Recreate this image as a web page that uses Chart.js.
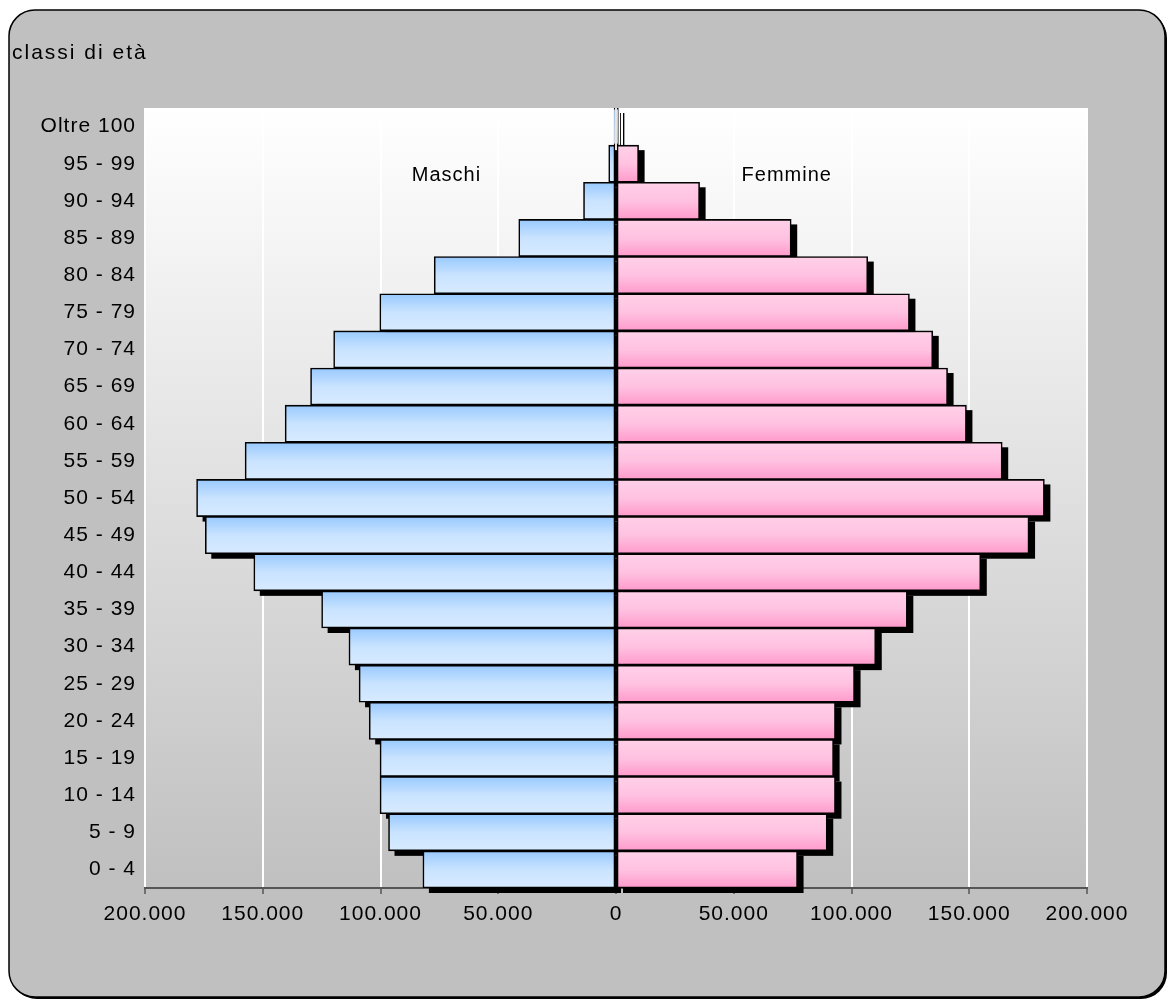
<!DOCTYPE html>
<html>
<head>
<meta charset="utf-8">
<script src="https://cdn.jsdelivr.net/npm/chart.js@4.4.1/dist/chart.umd.min.js"></script>
<style>
  html, body { margin: 0; padding: 0; background: #fff; }
  #contenitore { width: 1170px; height: 1003px; }
</style>
</head>
<body>
<div id="contenitore"><canvas id="piramide"></canvas></div>
<script>
const classiEta = ['Oltre 100', '95 - 99', '90 - 94', '85 - 89', '80 - 84', '75 - 79', '70 - 74',
    '65 - 69', '60 - 64', '55 - 59', '50 - 54', '45 - 49', '40 - 44', '35 - 39', '30 - 34',
    '25 - 29', '20 - 24', '15 - 19', '10 - 14', '5 - 9', '0 - 4'];

const maschi = [800, 3100, 13800, 41300, 77200, 100300, 119900, 129700, 140500, 157500, 178100,
    174400, 153800, 125000, 113400, 109100, 104800, 100200, 100200, 96600, 82000];

const femmine = [1000, 9600, 35500, 74400, 106900, 124600, 134500, 140800, 148800, 164000, 181900,
    175400, 154900, 123700, 110300, 101300, 93200, 92400, 93200, 89700, 77100];

const tacche = [-200000, -150000, -100000, -50000, 0, 50000, 100000, 150000, 200000];

const carattere = '"Liberation Sans", Arial, sans-serif';

function formatoItaliano(n) {
    return String(Math.abs(n)).replace(/\B(?=(\d{3})+(?!\d))/g, '.');
}

function gradienteBarra(ctx, colori) {
    const chart = ctx.chart;
    const asseY = chart.scales.y;
    if (!asseY || ctx.dataIndex === undefined) {
        return colori[1];
    }
    const centro = asseY.getPixelForValue(ctx.dataIndex);
    const alto = asseY.height / classiEta.length;
    if (!isFinite(centro) || !isFinite(alto) || alto <= 0) {
        return colori[1];
    }
    const g = chart.ctx.createLinearGradient(0, centro - alto / 2, 0, centro + alto / 2);
    g.addColorStop(0, colori[0]);
    g.addColorStop(0.5, colori[1]);
    g.addColorStop(1, colori[2]);
    return g;
}

const sfondo = {
    id: 'sfondo',
    beforeDraw(chart) {
        const c = chart.ctx;
        const area = chart.chartArea;
        c.save();
        c.fillStyle = '#ffffff';
        c.fillRect(0, 0, chart.width, chart.height);
        // ombra del riquadro
        c.beginPath();
        c.roundRect(11, 12, 1156, 987, 26);
        c.fillStyle = '#000';
        c.fill();
        c.beginPath();
        c.roundRect(9, 10, 1156, 987, 26);
        c.fillStyle = '#c0c0c0';
        c.fill();
        c.lineWidth = 1.5;
        c.strokeStyle = '#000';
        c.stroke();
        const g = c.createLinearGradient(0, area.top, 0, area.bottom);
        g.addColorStop(0, '#ffffff');
        g.addColorStop(1, '#c0c0c0');
        c.fillStyle = g;
        c.fillRect(area.left, area.top, area.right - area.left, area.bottom - area.top);
        c.fillStyle = '#000';
        c.font = '21px ' + carattere;
        c.letterSpacing = '2px';
        c.textBaseline = 'middle';
        c.textAlign = 'left';
        c.fillText('classi di età', 12, 53);
        c.restore();
        // scritte un po' allargate come nell'originale
        c.letterSpacing = '1px';
    }
};

const ombre = {
    id: 'ombre',
    beforeDatasetsDraw(chart) {
        const c = chart.ctx;
        c.save();
        c.fillStyle = '#000';
        chart.data.datasets.forEach((ds, i) => {
            chart.getDatasetMeta(i).data.forEach((barra) => {
                const p = barra.getProps(['x', 'y', 'base', 'height'], true);
                const sx = Math.min(p.x, p.base);
                const dx = Math.max(p.x, p.base);
                c.fillRect(sx + 6, p.y - p.height / 2 + 5, dx - sx, p.height);
            });
        });
        c.restore();
    }
};

const etichetteSesso = {
    id: 'etichetteSesso',
    afterDraw(chart) {
        const c = chart.ctx;
        const x = chart.scales.x;
        const y = chart.scales.y;
        c.save();
        c.fillStyle = '#000';
        c.font = '20px ' + carattere;
        c.letterSpacing = '1px';
        c.textAlign = 'center';
        c.textBaseline = 'middle';
        c.fillText('Maschi', x.getPixelForValue(-72000), y.getPixelForValue(1.32));
        c.fillText('Femmine', x.getPixelForValue(72500), y.getPixelForValue(1.32));
        c.restore();
    }
};

const grafica = new Chart(document.getElementById('piramide'), {
    type: 'bar',
    data: {
        labels: classiEta,
        datasets: [
            {
                label: 'Maschi',
                data: maschi.map((v) => -v),
                backgroundColor: (ctx) => gradienteBarra(ctx, ['#98c9fe', '#c9e3ff', '#d8ebff']),
                borderColor: '#000',
                borderWidth: 1.6,
                borderSkipped: false
            },
            {
                label: 'Femmine',
                data: femmine,
                backgroundColor: (ctx) => gradienteBarra(ctx, ['#ffd0e8', '#ffc2e1', '#ff9acb']),
                borderColor: '#000',
                borderWidth: 1.6,
                borderSkipped: false
            }
        ]
    },
    options: {
        indexAxis: 'y',
        responsive: true,
        maintainAspectRatio: false,
        animation: false,
        layout: { padding: { left: 10, right: 83, top: 108, bottom: 75 } },
        plugins: {
            legend: { display: false },
            tooltip: { enabled: false },
            title: { display: false }
        },
        datasets: {
            bar: { barPercentage: 1, categoryPercentage: 1 }
        },
        scales: {
            x: {
                stacked: true,
                min: -200000,
                max: 200000,
                afterBuildTicks: (scala) => { scala.ticks = tacche.map((v) => ({ value: v })); },
                afterFit: (scala) => { scala.height = 40; },
                grid: {
                    color: '#ffffff',
                    lineWidth: 2,
                    tickColor: '#555',
                    tickLength: 6,
                    tickWidth: 1.5
                },
                border: { color: '#555', width: 2 },
                ticks: {
                    color: '#000',
                    padding: 8,
                    maxRotation: 0,
                    font: { family: carattere, size: 21 },
                    callback: (v) => formatoItaliano(v)
                }
            },
            y: {
                stacked: true,
                afterFit: (scala) => { scala.width = 135; },
                grid: { display: false, drawTicks: false },
                border: { display: false },
                ticks: {
                    color: '#000',
                    padding: 9,
                    autoSkip: false,
                    font: { family: carattere, size: 21 }
                }
            }
        }
    },
    plugins: [sfondo, ombre, etichetteSesso]
});
</script>
</body>
</html>
